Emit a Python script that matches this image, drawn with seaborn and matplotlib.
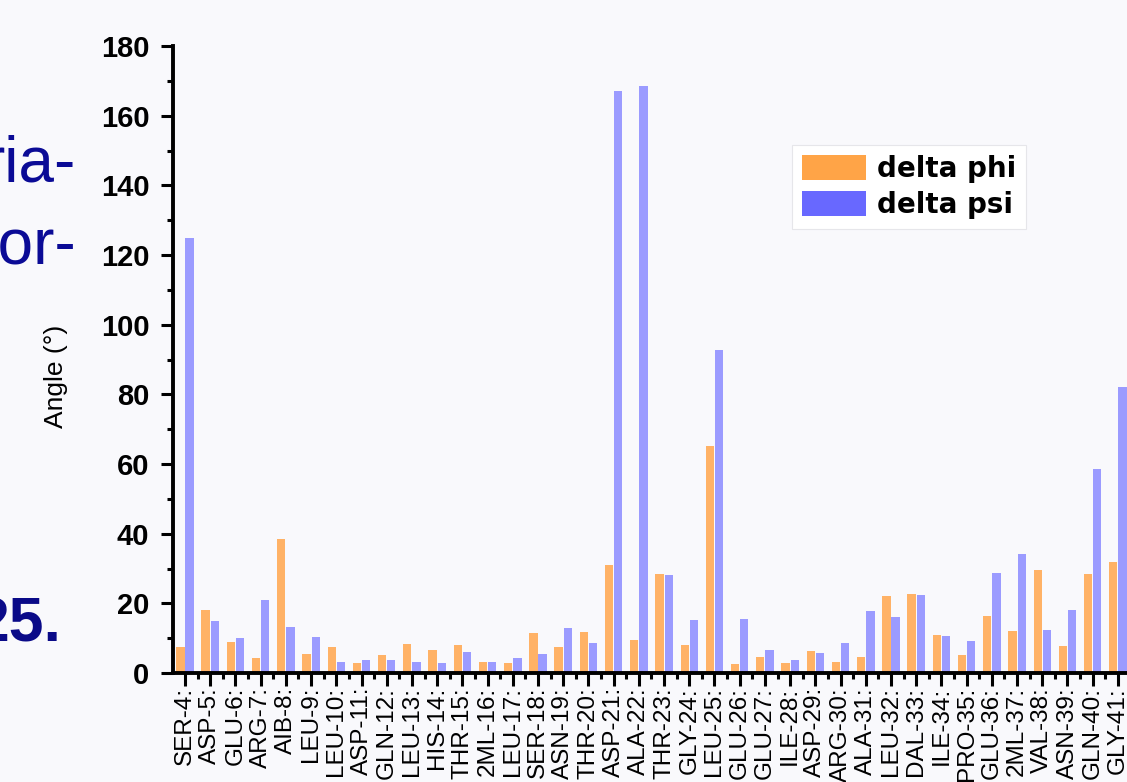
import matplotlib
matplotlib.use("Agg")
import matplotlib.pyplot as plt
from matplotlib.patches import Patch
from matplotlib.ticker import FixedLocator, MultipleLocator
import seaborn as sns
import pandas as pd

# Residues along the backbone
residues = ["SER-4:", "ASP-5:", "GLU-6:", "ARG-7:", "AIB-8:", "LEU-9:", "LEU-10:",
            "ASP-11:", "GLN-12:", "LEU-13:", "HIS-14:", "THR-15:", "2ML-16:", "LEU-17:",
            "SER-18:", "ASN-19:", "THR-20:", "ASP-21:", "ALA-22:", "THR-23:", "GLY-24:",
            "LEU-25:", "GLU-26:", "GLU-27:", "ILE-28:", "ASP-29:", "ARG-30:", "ALA-31:",
            "LEU-32:", "DAL-33:", "ILE-34:", "PRO-35:", "GLU-36:", "2ML-37:", "VAL-38:",
            "ASN-39:", "GLN-40:", "GLY-41:"]

# Change of backbone dihedral angles (degrees)
delta_phi = [7.6, 18.2, 9.0, 4.4, 38.5, 5.5, 7.5, 3.0, 5.1, 8.4, 6.6, 8.0, 3.2, 2.9,
             11.4, 7.5, 11.7, 30.9, 9.4, 28.3, 8.1, 65.1, 2.7, 4.7, 3.0, 6.3, 3.2, 4.7,
             22.1, 22.7, 10.9, 5.1, 16.5, 12.1, 29.5, 7.8, 28.3, 31.9]
delta_psi = [125.0, 15.0, 10.0, 21.0, 13.3, 10.3, 3.3, 3.7, 3.7, 3.3, 2.8, 6.1, 3.3, 4.2,
             5.4, 12.9, 8.5, 167.1, 168.5, 28.0, 15.3, 92.8, 15.6, 6.6, 3.8, 5.7, 8.5, 17.9,
             16.2, 22.5, 10.5, 9.1, 28.8, 34.3, 12.4, 18.2, 58.5, 82.1]

series_names = ["delta phi", "delta psi"]

df = pd.DataFrame({
    "residue": residues * 2,
    "series": [series_names[0]] * len(residues) + [series_names[1]] * len(residues),
    "angle": delta_phi + delta_psi,
})

W, H = 1127, 782
bg = "#F9F9FC"
bar_colors = {"delta phi": "#FFB266", "delta psi": "#9B9BFF"}
legend_colors = {"delta phi": "#FFA447", "delta psi": "#6868FF"}

sns.set_theme(style="ticks")
plt.rcParams["font.family"] = ["Liberation Sans", "DejaVu Sans"]
plt.rcParams["text.color"] = "black"

fig = plt.figure(figsize=(W / 100, H / 100), dpi=100, facecolor=bg)
ax = fig.add_axes([173 / W, 109 / H, 1 - 173 / W, 627 / H])
ax.set_facecolor(bg)

sns.barplot(data=df, x="residue", y="angle", hue="series", order=residues,
            hue_order=series_names, palette=bar_colors, saturation=1,
            width=0.73, gap=0.1, linewidth=0, legend=False, ax=ax)

ax.set_xlim(-0.476, 37.36)
ax.set_ylim(0, 180)

for side in ("top", "right"):
    ax.spines[side].set_visible(False)
for side in ("left", "bottom"):
    ax.spines[side].set_linewidth(2.8)
    ax.spines[side].set_color("black")

ax.yaxis.set_major_locator(MultipleLocator(20))
ax.yaxis.set_minor_locator(MultipleLocator(10))
ax.xaxis.set_minor_locator(FixedLocator([i + 0.5 for i in range(-1, len(residues))]))

ax.tick_params(axis="y", which="major", length=9, width=2.2, pad=8, color="black")
ax.tick_params(axis="y", which="minor", length=4.5, width=2.2, color="black")
ax.tick_params(axis="x", which="major", length=9, width=2.2, pad=1, color="black")
ax.tick_params(axis="x", which="minor", length=4.5, width=2.2, color="black")

ax.set_yticks(range(0, 181, 20))
ax.set_yticklabels([str(v) for v in range(0, 181, 20)], fontsize=21,
                   fontweight="bold", color="black")

ax.set_xticks(range(len(residues)))
ax.set_xticklabels(residues, rotation=90, fontsize=17.5, color="black",
                   ha="center", va="top")

ax.set_xlabel("")
ax.set_ylabel("Angle (°)", fontsize=19, color="black")
ax.yaxis.set_label_coords(-(173 - 68) / (W - 173), (782 - 376 - 109) / 627)

handles = [Patch(facecolor=legend_colors[s], edgecolor="none", label=s) for s in series_names]
leg = ax.legend(handles=handles, loc="upper left",
                bbox_to_anchor=(792 / W, 1 - 145 / H), bbox_transform=fig.transFigure,
                prop={"family": "DejaVu Sans", "weight": "bold", "size": 20},
                handlelength=2.3, handleheight=1.0, handletextpad=0.42,
                labelspacing=0.3, borderpad=0.35, borderaxespad=0,
                fancybox=False, framealpha=1)
leg.get_frame().set_edgecolor("#E6E6EA")
leg.get_frame().set_linewidth(0.8)
for t in leg.get_texts():
    t.set_color("black")

# Fragments of slide text to the left of the chart
fig.text(76 / W, 1 - 181 / H, "ria-", ha="right", va="baseline",
         fontsize=46, color="#0B0B96")
fig.text(76 / W, 1 - 263 / H, "for-", ha="right", va="baseline",
         fontsize=46, color="#0B0B96")
fig.text(62 / W, 1 - 642 / H, "25.", ha="right", va="baseline",
         fontsize=45, fontweight="bold", color="#0A0A88")

fig.savefig("out.png", dpi=100, facecolor=bg)
